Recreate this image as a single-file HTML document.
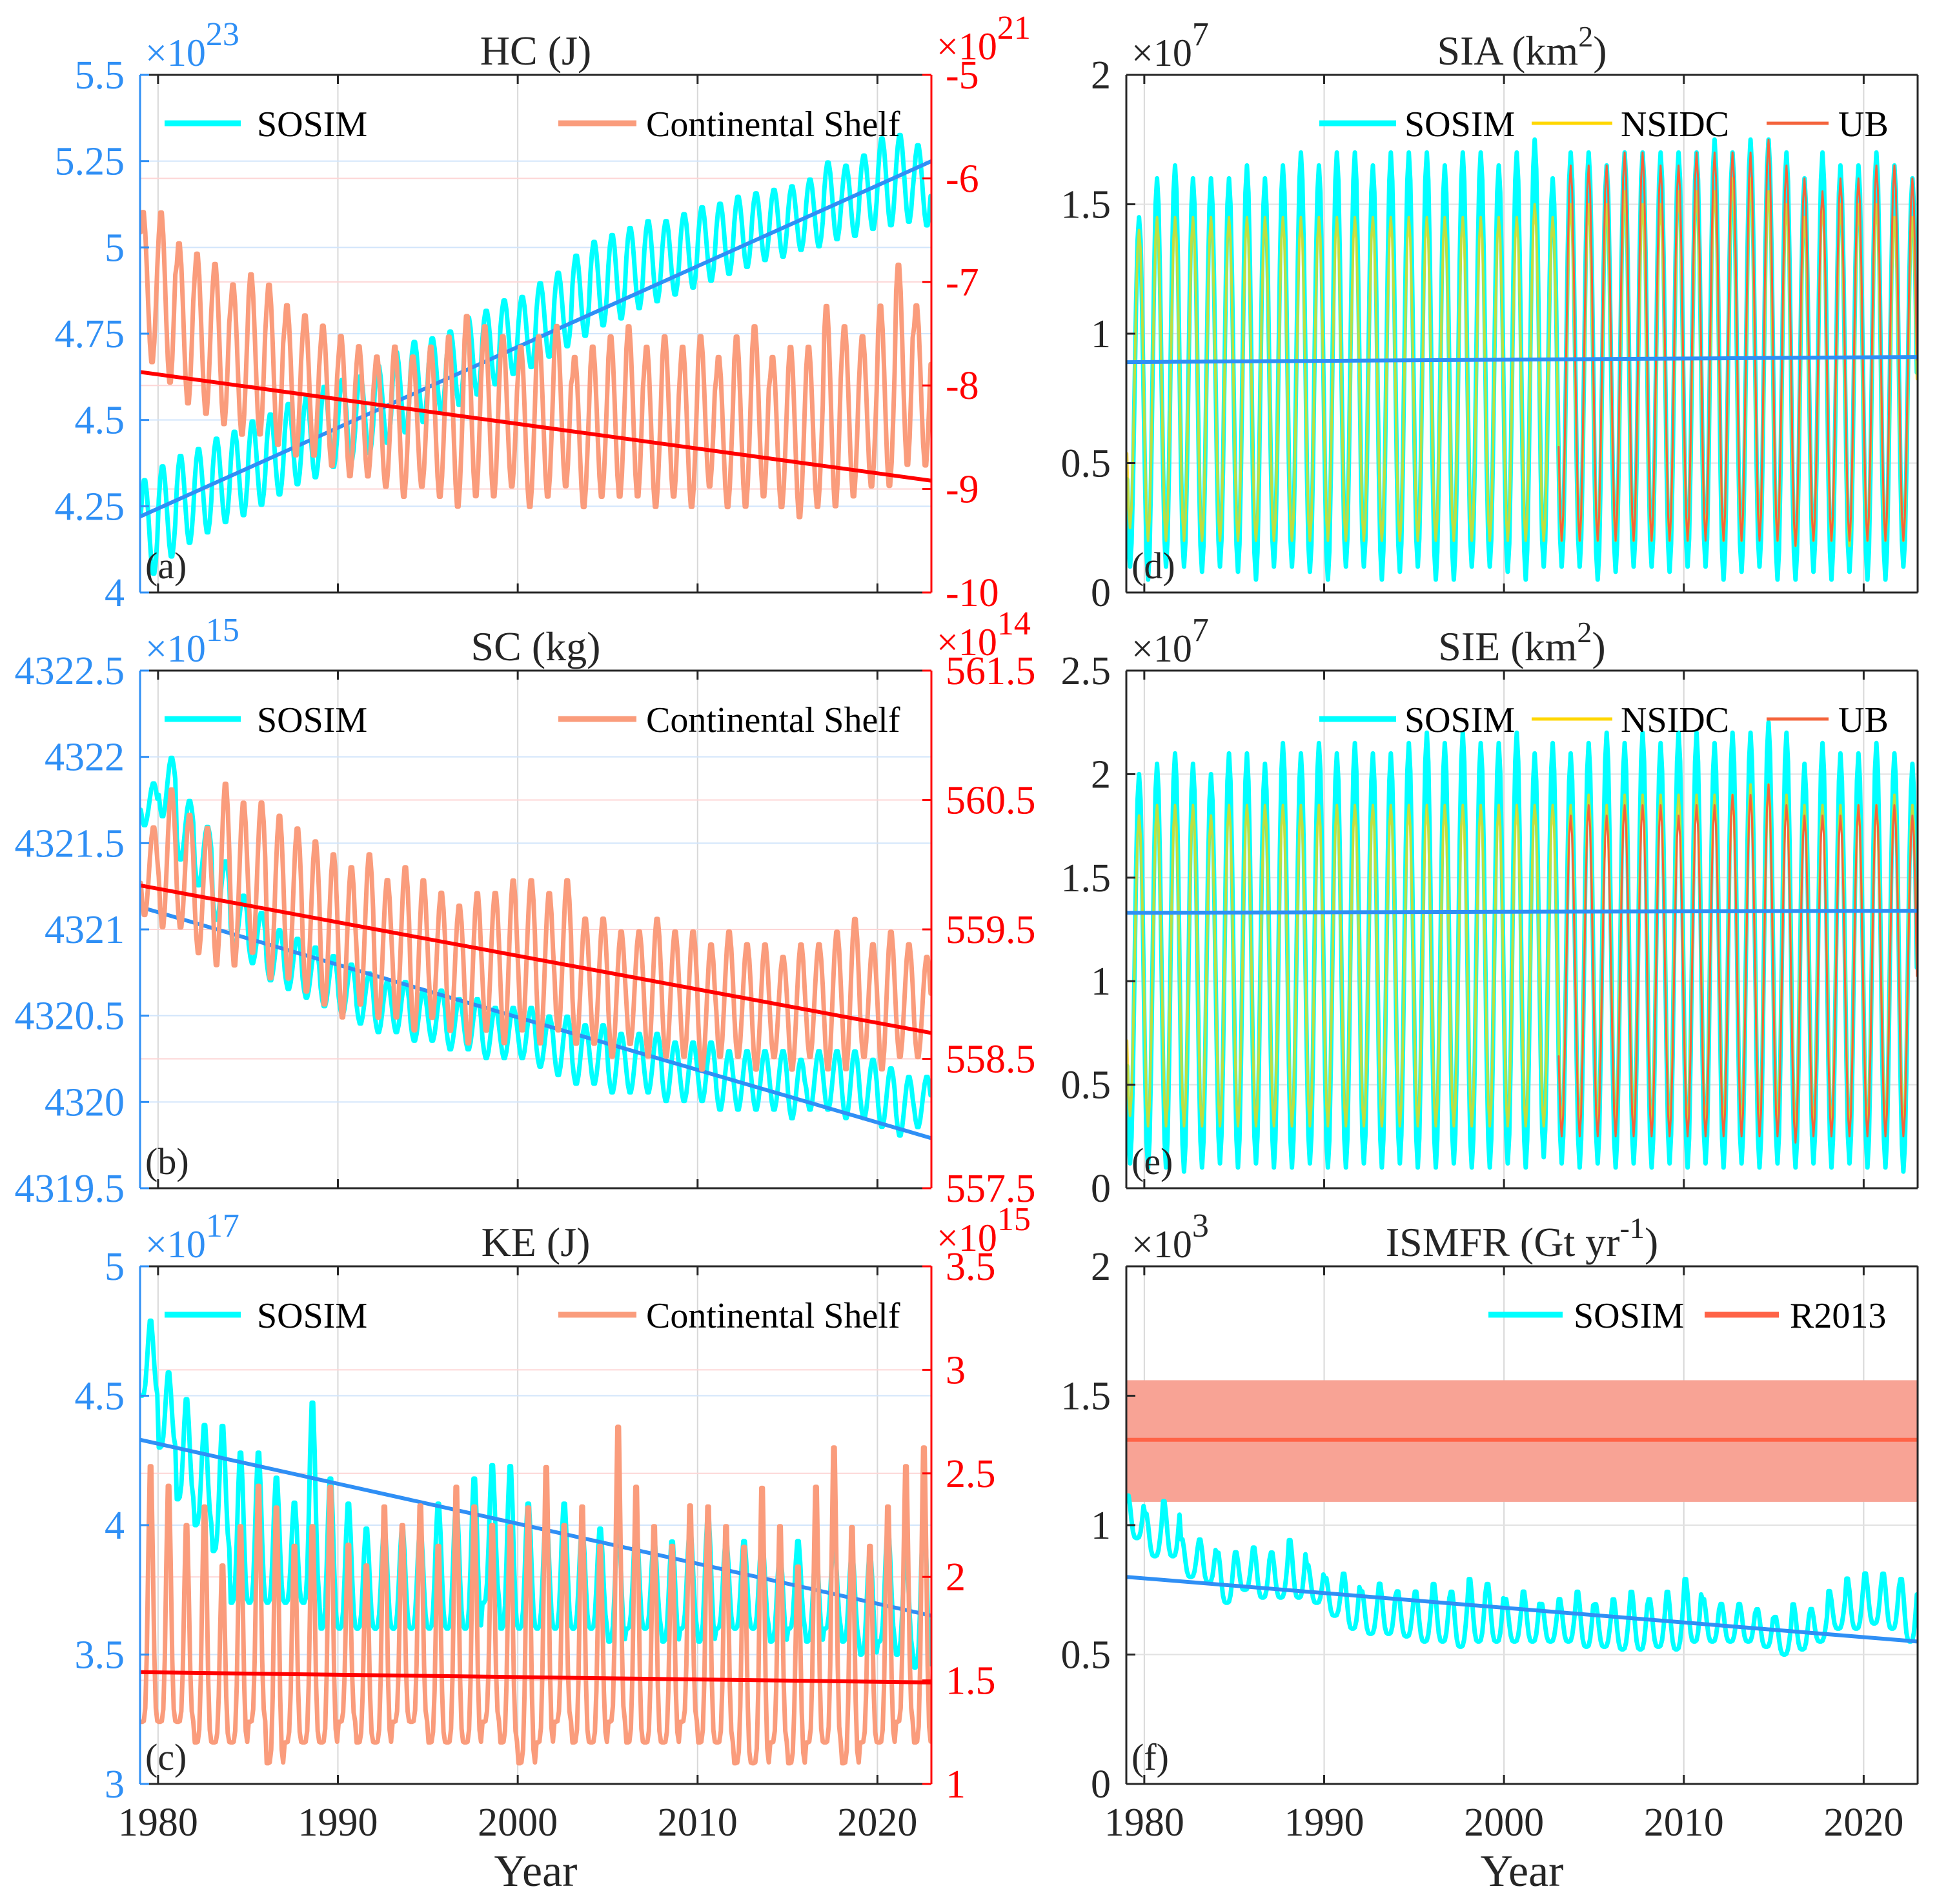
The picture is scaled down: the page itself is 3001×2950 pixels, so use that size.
<!DOCTYPE html>
<html><head><meta charset="utf-8"><title>Southern Ocean diagnostics</title>
<style>
html,body{margin:0;padding:0;background:#fff;}
svg{display:block;font-family:"Liberation Serif",serif;}
</style></head>
<body>
<svg id="fig" width="3001" height="2950" viewBox="0 0 3001 2950" xmlns="http://www.w3.org/2000/svg">
<rect x="0" y="0" width="3001" height="2950" fill="#fff"/>
</svg>
<script>
// ---------- data (yearly seasonal max/min, 1979..2022) ----------
const startYear = 1979;
const yearTicks = [1980, 1990, 2000, 2010, 2020];
const hcMax = [4.33,4.37,4.40,4.42,4.45,4.47,4.50,4.52,4.55,4.57,4.60,4.62,4.63,4.66,4.70,4.73,4.74,4.76,4.80,4.82,4.85,4.86,4.90,4.93,4.98,5.02,5.04,5.06,5.08,5.08,5.10,5.12,5.13,5.15,5.16,5.17,5.18,5.20,5.25,5.24,5.27,5.32,5.33,5.30];
const hcMin = [4.05,4.10,4.14,4.17,4.20,4.22,4.25,4.28,4.31,4.33,4.36,4.38,4.40,4.43,4.46,4.49,4.52,4.54,4.57,4.60,4.63,4.65,4.68,4.71,4.74,4.77,4.79,4.82,4.84,4.86,4.88,4.90,4.92,4.94,4.96,4.97,4.99,5.00,5.02,5.03,5.05,5.06,5.07,5.06];
const hcShelfMax = [-6.3,-6.3,-6.6,-6.7,-6.8,-7.0,-6.9,-7.0,-7.2,-7.3,-7.4,-7.5,-7.6,-7.7,-7.6,-7.7,-7.6,-7.5,-7.3,-7.4,-7.5,-7.6,-7.5,-7.4,-7.7,-7.6,-7.5,-7.4,-7.6,-7.5,-7.6,-7.5,-7.7,-7.5,-7.4,-7.7,-7.6,-7.6,-7.2,-7.4,-7.5,-7.2,-6.8,-7.2];
const hcShelfMin = [-7.8,-8.0,-8.2,-8.3,-8.4,-8.5,-8.5,-8.6,-8.7,-8.7,-8.8,-8.9,-8.9,-9.0,-9.1,-9.0,-9.1,-9.2,-9.1,-9.1,-9.0,-9.2,-9.1,-9.0,-9.2,-9.1,-9.1,-9.1,-9.2,-9.1,-9.2,-9.0,-9.2,-9.2,-9.1,-9.2,-9.3,-9.2,-9.2,-9.1,-9.0,-9.0,-8.8,-8.8];
const hcTrend = [4.22, 5.25];
const hcShelfTrend = [-7.87, -8.92];

const scMax = [4321.85,4322.0,4321.75,4321.6,4321.4,4321.2,4321.1,4321.0,4320.95,4320.9,4320.85,4320.8,4320.75,4320.7,4320.7,4320.65,4320.65,4320.6,4320.6,4320.55,4320.55,4320.55,4320.5,4320.5,4320.45,4320.45,4320.4,4320.4,4320.4,4320.35,4320.35,4320.35,4320.3,4320.3,4320.3,4320.3,4320.25,4320.3,4320.3,4320.3,4320.25,4320.2,4320.15,4320.15];
const scMin = [4321.6,4321.65,4321.4,4321.25,4321.05,4320.9,4320.8,4320.7,4320.65,4320.6,4320.55,4320.5,4320.45,4320.4,4320.4,4320.35,4320.35,4320.3,4320.3,4320.25,4320.25,4320.25,4320.2,4320.15,4320.1,4320.1,4320.05,4320.05,4320.05,4320.0,4320.0,4320.0,4319.95,4319.95,4319.95,4319.95,4319.9,4319.95,4319.95,4319.9,4319.9,4319.85,4319.8,4319.85];
const scShelfMax = [560.3,560.6,560.4,560.3,560.65,560.5,560.5,560.4,560.3,560.2,560.1,560.0,560.1,559.9,560.0,559.9,559.8,559.7,559.8,559.8,559.9,559.9,559.8,559.9,559.6,559.6,559.5,559.5,559.6,559.5,559.5,559.4,559.5,559.4,559.4,559.3,559.4,559.4,559.5,559.6,559.4,559.5,559.4,559.3];
const scShelfMin = [559.6,559.5,559.5,559.3,559.2,559.2,559.3,559.1,559.1,559.0,558.9,558.8,558.9,558.8,558.8,558.7,558.8,558.7,558.6,558.7,558.6,558.7,558.6,558.7,558.6,558.6,558.5,558.6,558.5,558.5,558.5,558.4,558.5,558.5,558.4,558.5,558.4,558.5,558.4,558.4,558.5,558.4,558.5,558.5];
const scTrend = [4321.13, 4319.79];
const scShelfTrend = [559.84, 558.70];

const keMax = [4.8,4.6,4.5,4.4,4.4,4.3,4.3,4.2,4.1,4.5,4.2,4.1,4.0,4.0,4.0,4.0,4.1,4.1,4.2,4.25,4.25,4.1,4.05,4.1,4.0,4.0,4.0,4.0,3.95,3.95,4.0,4.05,3.95,3.95,3.95,3.9,3.95,3.9,3.95,3.9,3.9,4.0,3.9,4.05];
const keMin = [4.5,4.3,4.1,4.0,3.9,3.7,3.7,3.7,3.7,3.7,3.6,3.6,3.6,3.6,3.6,3.6,3.6,3.6,3.6,3.7,3.6,3.6,3.6,3.6,3.6,3.6,3.55,3.6,3.6,3.55,3.6,3.55,3.6,3.6,3.6,3.55,3.6,3.55,3.6,3.55,3.5,3.55,3.5,3.45];
const keShelfMax = [2.6,2.5,2.3,2.4,2.1,2.3,2.5,2.4,2.2,2.3,2.5,2.2,2.1,2.4,2.3,2.4,2.2,2.5,2.4,2.3,2.3,2.4,2.6,2.3,2.4,2.2,2.8,2.5,2.3,2.2,2.4,2.4,2.3,2.2,2.5,2.3,2.1,2.5,2.7,2.3,2.2,2.4,2.6,2.7];
const keShelfMin = [1.3,1.3,1.3,1.2,1.2,1.2,1.3,1.1,1.2,1.2,1.2,1.3,1.2,1.2,1.3,1.3,1.2,1.2,1.2,1.3,1.2,1.1,1.2,1.3,1.2,1.2,1.3,1.2,1.2,1.2,1.3,1.2,1.2,1.1,1.1,1.2,1.1,1.2,1.2,1.1,1.2,1.2,1.3,1.2];
const keTrend = [4.33, 3.65];
const keShelfTrend = [1.54, 1.49];

const siaMax = [1.45,1.6,1.65,1.6,1.6,1.6,1.65,1.6,1.65,1.7,1.65,1.7,1.7,1.65,1.7,1.7,1.7,1.65,1.7,1.7,1.65,1.7,1.75,1.6,1.7,1.7,1.65,1.7,1.7,1.7,1.7,1.7,1.75,1.7,1.75,1.75,1.7,1.6,1.7,1.65,1.65,1.7,1.65,1.6];
const siaMin = [0.1,0.05,0.1,0.1,0.08,0.1,0.08,0.05,0.1,0.1,0.08,0.05,0.1,0.1,0.05,0.08,0.1,0.05,0.05,0.1,0.1,0.08,0.05,0.1,0.1,0.1,0.05,0.08,0.1,0.1,0.08,0.1,0.1,0.05,0.08,0.1,0.05,0.05,0.08,0.05,0.08,0.05,0.05,0.1];
const siaNsidcMax = [1.4,1.45,1.45,1.45,1.45,1.45,1.45,1.45,1.45,1.45,1.45,1.45,1.45,1.45,1.45,1.45,1.45,1.45,1.45,1.45,1.45,1.45,1.5,1.45,1.5,1.5,1.5,1.55,1.5,1.5,1.55,1.55,1.55,1.6,1.6,1.55,1.5,1.45,1.5,1.5,1.5,1.5,1.45,1.45];
const siaNsidcMin = [0.25,0.2,0.2,0.2,0.2,0.2,0.2,0.2,0.2,0.2,0.2,0.2,0.2,0.2,0.2,0.2,0.2,0.2,0.2,0.2,0.2,0.2,0.2,0.2,0.2,0.2,0.2,0.2,0.2,0.2,0.2,0.2,0.22,0.2,0.2,0.22,0.2,0.18,0.2,0.2,0.18,0.2,0.2,0.2];
const siaUbMax = [null,null,null,null,null,null,null,null,null,null,null,null,null,null,null,null,null,null,null,null,null,null,null,null,1.65,1.65,1.65,1.7,1.7,1.65,1.65,1.7,1.7,1.7,1.7,1.75,1.65,1.6,1.55,1.6,1.6,1.65,1.65,1.6];
const siaUbMin = [null,null,null,null,null,null,null,null,null,null,null,null,null,null,null,null,null,null,null,null,null,null,null,null,0.2,0.2,0.2,0.2,0.2,0.2,0.2,0.2,0.2,0.2,0.2,0.2,0.2,0.18,0.2,0.2,0.2,0.2,0.2,0.2];
const siaTrend = [0.89, 0.91];

const sieMax = [2.0,2.05,2.1,2.05,2.0,2.1,2.1,2.05,2.15,2.1,2.15,2.1,2.15,2.1,2.1,2.15,2.2,2.15,2.2,2.15,2.15,2.2,2.1,2.15,2.1,2.15,2.2,2.15,2.2,2.15,2.2,2.2,2.15,2.2,2.2,2.25,2.2,2.05,2.15,2.1,2.1,2.15,2.1,2.05];
const sieMin = [0.12,0.1,0.1,0.08,0.1,0.12,0.1,0.12,0.1,0.1,0.12,0.1,0.1,0.12,0.1,0.12,0.1,0.1,0.12,0.1,0.1,0.12,0.1,0.15,0.12,0.1,0.12,0.1,0.12,0.1,0.12,0.1,0.12,0.1,0.12,0.1,0.12,0.1,0.12,0.1,0.12,0.1,0.1,0.08];
const sieNsidcMax = [1.8,1.85,1.85,1.85,1.8,1.85,1.85,1.85,1.85,1.85,1.85,1.85,1.85,1.85,1.85,1.85,1.85,1.85,1.85,1.85,1.85,1.85,1.85,1.85,1.85,1.9,1.85,1.9,1.9,1.9,1.9,1.9,1.9,1.9,1.95,1.95,1.9,1.85,1.85,1.85,1.85,1.85,1.9,1.85];
const sieNsidcMin = [0.35,0.3,0.3,0.3,0.3,0.3,0.3,0.3,0.3,0.3,0.3,0.3,0.3,0.3,0.3,0.3,0.3,0.3,0.3,0.3,0.3,0.3,0.3,0.3,0.3,0.3,0.3,0.3,0.3,0.3,0.3,0.3,0.3,0.3,0.3,0.3,0.3,0.28,0.3,0.3,0.28,0.3,0.3,0.3];
const sieUbMax = [null,null,null,null,null,null,null,null,null,null,null,null,null,null,null,null,null,null,null,null,null,null,null,null,1.8,1.85,1.8,1.85,1.85,1.85,1.8,1.85,1.85,1.9,1.9,1.95,1.85,1.8,1.8,1.8,1.85,1.85,1.85,1.8];
const sieUbMin = [null,null,null,null,null,null,null,null,null,null,null,null,null,null,null,null,null,null,null,null,null,null,null,null,0.25,0.25,0.25,0.25,0.25,0.25,0.25,0.25,0.25,0.25,0.25,0.25,0.25,0.22,0.25,0.25,0.25,0.25,0.25,0.25];
const sieTrend = [1.33, 1.34];

const ismMax = [1.12,1.05,1.1,0.95,0.95,0.9,0.9,0.92,0.9,0.95,0.85,0.8,0.82,0.75,0.78,0.75,0.75,0.78,0.75,0.8,0.78,0.72,0.75,0.7,0.72,0.75,0.7,0.72,0.75,0.72,0.75,0.8,0.72,0.7,0.7,0.68,0.65,0.7,0.68,0.75,0.8,0.82,0.82,0.8];
const ismMin = [0.95,0.88,0.88,0.8,0.78,0.7,0.75,0.72,0.72,0.72,0.7,0.65,0.6,0.58,0.58,0.57,0.55,0.55,0.53,0.55,0.55,0.55,0.55,0.55,0.55,0.53,0.53,0.52,0.52,0.53,0.52,0.55,0.55,0.55,0.55,0.53,0.5,0.52,0.55,0.6,0.6,0.62,0.6,0.55];
const ismTrend = [0.8, 0.55];
const r2013 = [1.33, 1.09, 1.56]; // mean, lower, upper
</script>
<script>
const NS = "http://www.w3.org/2000/svg";
const svg = document.getElementById('fig');
const X0 = 1979, X1 = 2023;
const BLUE = "#2f8ff5", RED = "#ff0000", CYAN = "#00ffff", SHELF = "#fa9c7c", DARK = "#262626";

function mk(tag, attrs, parent) {
  const e = document.createElementNS(NS, tag);
  for (const k in attrs) e.setAttribute(k, attrs[k]);
  (parent || svg).appendChild(e);
  return e;
}
function monthly(mx, mn, peak, pw) {
  const out = [];
  for (let i = 0; i < mx.length * 12; i++) {
    const y = Math.floor(i / 12), m = i % 12;
    if (mx[y] === null) { out.push(null); continue; }
    let ph = 0.5 + 0.5 * Math.cos(2 * Math.PI * (m + 0.5 - peak) / 12);
    if (pw) ph = Math.pow(ph, pw);
    out.push({ t: startYear + (i + 0.5) / 12, v: mn[y] + (mx[y] - mn[y]) * ph });
  }
  return out;
}
function makeScales(p, lo, hi) {
  return {
    sx: t => p.x0 + (t - X0) / (X1 - X0) * (p.x1 - p.x0),
    sy: v => p.y1 - (v - lo) / (hi - lo) * (p.y1 - p.y0)
  };
}
function pathFrom(pts, S) {
  let d = "", pen = false;
  for (const q of pts) {
    if (!q) { pen = false; continue; }
    d += (pen ? "L" : "M") + S.sx(q.t).toFixed(1) + "," + S.sy(q.v).toFixed(1);
    pen = true;
  }
  return d;
}
function text(x, y, s, size, fill, anchor, parent) {
  const t = mk('text', { x: x, y: y, 'font-size': size, fill: fill, 'text-anchor': anchor || 'start' }, parent);
  t.textContent = s;
  return t;
}
function expLabel(x, y, exp, color, anchor, g) {
  const t = mk('text', { x: x, y: y, 'font-size': 60, fill: color, 'text-anchor': anchor || 'start' }, g);
  
  
  const a = mk('tspan', {}, t); a.textContent = "×10";
  const b = mk('tspan', { dy: -32, 'font-size': 52 }, t); b.textContent = exp;
}

function panel(cfg) {
  const p = cfg.box;
  const g = mk('g', {});
  
  
  const cid = 'clip-' + cfg.name;
  const cp = mk('clipPath', { id: cid }, g);
  mk('rect', { x: p.x0, y: p.y0, width: p.x1 - p.x0, height: p.y1 - p.y0 }, cp);
  const L = makeScales(p, cfg.left.lo, cfg.left.hi);
  const R = cfg.right ? makeScales(p, cfg.right.lo, cfg.right.hi) : null;

  // grid
  const grid = mk('g', {}, g);
  
  
  for (const yr of yearTicks) mk('line', { x1: L.sx(yr), x2: L.sx(yr), y1: p.y0, y2: p.y1, stroke: '#d8d8d8', 'stroke-width': 2 }, grid);
  for (const v of cfg.left.ticks) mk('line', { x1: p.x0, x2: p.x1, y1: L.sy(v), y2: L.sy(v), stroke: cfg.right ? '#d2e5fb' : '#e2e2e2', 'stroke-width': 2 }, grid);
  if (R) for (const v of cfg.right.ticks) mk('line', { x1: p.x0, x2: p.x1, y1: R.sy(v), y2: R.sy(v), stroke: '#fdd6d6', 'stroke-width': 2 }, grid);

  // series
  const sg = mk('g', { 'clip-path': 'url(#' + cid + ')' }, g);
  for (const s of cfg.series) {
    const S = s.axis === 'right' ? R : L;
    if (s.band) {
      const r = mk('rect', { x: p.x0, width: p.x1 - p.x0, y: S.sy(s.band[1]), height: S.sy(s.band[0]) - S.sy(s.band[1]), fill: s.color, opacity: s.opacity || 1 }, sg);
      
      
      continue;
    }
    let pts;
    if (s.trend) pts = [{ t: X0, v: s.trend[0] }, { t: X1, v: s.trend[1] }];
    else pts = monthly(s.max, s.min, s.peak, s.pw);
    const e = mk('path', { d: pathFrom(pts, S), fill: 'none', stroke: s.color, 'stroke-width': s.w, 'stroke-linejoin': 'round', 'stroke-linecap': 'round', opacity: s.opacity || 1 }, sg);
    
    
  }

  // axes
  const ax = mk('g', {}, g);
  
  
  mk('line', { x1: p.x0, x2: p.x1, y1: p.y0, y2: p.y0, stroke: DARK, 'stroke-width': 3 }, ax);
  mk('line', { x1: p.x0, x2: p.x1, y1: p.y1, y2: p.y1, stroke: DARK, 'stroke-width': 3 }, ax);
  const lc = cfg.right ? BLUE : DARK, rc = cfg.right ? RED : DARK;
  mk('line', { x1: p.x0, x2: p.x0, y1: p.y0, y2: p.y1, stroke: lc, 'stroke-width': 3 }, ax);
  mk('line', { x1: p.x1, x2: p.x1, y1: p.y0, y2: p.y1, stroke: rc, 'stroke-width': 3 }, ax);
  for (const yr of yearTicks) {
    mk('line', { x1: L.sx(yr), x2: L.sx(yr), y1: p.y1, y2: p.y1 - 14, stroke: DARK, 'stroke-width': 3 }, ax);
    mk('line', { x1: L.sx(yr), x2: L.sx(yr), y1: p.y0, y2: p.y0 + 14, stroke: DARK, 'stroke-width': 3 }, ax);
    if (cfg.xlabels) {
      const t = text(L.sx(yr), p.y1 + 80, String(yr), 62, DARK, 'middle', ax);
      
      
    }
  }
  cfg.left.ticks.forEach((v, i) => {
    mk('line', { x1: p.x0, x2: p.x0 + 14, y1: L.sy(v), y2: L.sy(v), stroke: lc, 'stroke-width': 3 }, ax);
    const t = text(p.x0 - 24, L.sy(v) + 21, cfg.left.labels[i], 62, lc, 'end', ax);
    
    
  });
  if (R) {
    cfg.right.ticks.forEach((v, i) => {
      mk('line', { x1: p.x1, x2: p.x1 - 14, y1: R.sy(v), y2: R.sy(v), stroke: rc, 'stroke-width': 3 }, ax);
      const t = text(p.x1 + 22, R.sy(v) + 21, cfg.right.labels[i], 62, rc, 'start', ax);
      
      
    });
    expLabel(p.x1 + 8, p.y0 - 24, cfg.right.exp, RED, 'start', g);
  }
  expLabel(p.x0 + 8, p.y0 - 14, cfg.left.exp, lc, 'start', g);

  // title
  const tt = mk('text', { x: (p.x0 + p.x1) / 2, y: p.y0 - 16, 'font-size': 64, fill: DARK, 'text-anchor': 'middle' }, g);
  
  
  const t1 = mk('tspan', {}, tt); t1.textContent = cfg.title[0];
  if (cfg.title[1]) {
    const t2 = mk('tspan', { dy: -28, 'font-size': 46 }, tt); t2.textContent = cfg.title[1];
    const t3 = mk('tspan', { dy: 28 }, tt); t3.textContent = cfg.title[2];
  }
  // panel letter
  const pl = text(p.x0 + 8, p.y1 - 22, cfg.letter, 58, DARK, 'start', g);
  
  

  // legend
  const lg = mk('g', {}, g);
  
  
  for (const it of cfg.legend) {
    const ly = p.y0 + 75;
    const e = mk('g', {}, lg);
    
    
    mk('line', { x1: it.x1, x2: it.x2, y1: ly, y2: ly, stroke: it.color, 'stroke-width': it.w }, e);
    text(it.tx, ly + 20, it.label, 56, '#000', 'start', e);
  }
}

const LX = [217, 1443], RX = [1745, 2971];
const ROWS = [[116, 918], [1039, 1841], [1962, 2764]];

panel({ name: 'panel-a-heat-content', box: { x0: LX[0], x1: LX[1], y0: ROWS[0][0], y1: ROWS[0][1] }, title: ['HC (J)'], letter: '(a)',
  left: { lo: 4, hi: 5.5, ticks: [4, 4.25, 4.5, 4.75, 5, 5.25, 5.5], labels: ['4', '4.25', '4.5', '4.75', '5', '5.25', '5.5'], exp: '23' },
  right: { lo: -10, hi: -5, ticks: [-10, -9, -8, -7, -6, -5], labels: ['-10', '-9', '-8', '-7', '-6', '-5'], exp: '21' },
  series: [
    { name: 'sosim-hc-line', max: hcMax, min: hcMin, peak: 3, color: CYAN, w: 7 },
    { name: 'sosim-hc-trend', trend: hcTrend, color: BLUE, w: 6 },
    { name: 'shelf-hc-line', axis: 'right', max: hcShelfMax, min: hcShelfMin, peak: 2, color: SHELF, w: 7 },
    { name: 'shelf-hc-trend', axis: 'right', trend: hcShelfTrend, color: RED, w: 6 }],
  legend: [{ x1: 255, x2: 373, color: CYAN, w: 9, tx: 398, label: 'SOSIM' }, { x1: 865, x2: 986, color: SHELF, w: 9, tx: 1001, label: 'Continental Shelf' }] });

panel({ name: 'panel-b-salt-content', box: { x0: LX[0], x1: LX[1], y0: ROWS[1][0], y1: ROWS[1][1] }, title: ['SC (kg)'], letter: '(b)',
  left: { lo: 4319.5, hi: 4322.5, ticks: [4319.5, 4320, 4320.5, 4321, 4321.5, 4322, 4322.5], labels: ['4319.5', '4320', '4320.5', '4321', '4321.5', '4322', '4322.5'], exp: '15' },
  right: { lo: 557.5, hi: 561.5, ticks: [557.5, 558.5, 559.5, 560.5, 561.5], labels: ['557.5', '558.5', '559.5', '560.5', '561.5'], exp: '14' },
  series: [
    { name: 'sosim-sc-line', max: scMax, min: scMin, peak: 9, color: CYAN, w: 7 },
    { name: 'sosim-sc-trend', trend: scTrend, color: BLUE, w: 6 },
    { name: 'shelf-sc-line', axis: 'right', max: scShelfMax, min: scShelfMin, peak: 9, color: SHELF, w: 7 },
    { name: 'shelf-sc-trend', axis: 'right', trend: scShelfTrend, color: RED, w: 6 }],
  legend: [{ x1: 255, x2: 373, color: CYAN, w: 9, tx: 398, label: 'SOSIM' }, { x1: 865, x2: 986, color: SHELF, w: 9, tx: 1001, label: 'Continental Shelf' }] });

panel({ name: 'panel-c-kinetic-energy', box: { x0: LX[0], x1: LX[1], y0: ROWS[2][0], y1: ROWS[2][1] }, title: ['KE (J)'], letter: '(c)', xlabels: true,
  left: { lo: 3, hi: 5, ticks: [3, 3.5, 4, 4.5, 5], labels: ['3', '3.5', '4', '4.5', '5'], exp: '17' },
  right: { lo: 1, hi: 3.5, ticks: [1, 1.5, 2, 2.5, 3, 3.5], labels: ['1', '1.5', '2', '2.5', '3', '3.5'], exp: '15' },
  series: [
    { name: 'sosim-ke-line', max: keMax, min: keMin, peak: 7, pw: 2, color: CYAN, w: 7 },
    { name: 'sosim-ke-trend', trend: keTrend, color: BLUE, w: 6 },
    { name: 'shelf-ke-line', axis: 'right', max: keShelfMax, min: keShelfMin, peak: 7, pw: 3, color: SHELF, w: 7 },
    { name: 'shelf-ke-trend', axis: 'right', trend: keShelfTrend, color: RED, w: 6 }],
  legend: [{ x1: 255, x2: 373, color: CYAN, w: 9, tx: 398, label: 'SOSIM' }, { x1: 865, x2: 986, color: SHELF, w: 9, tx: 1001, label: 'Continental Shelf' }] });

const iceLegend = [{ x1: 2044, x2: 2163, color: CYAN, w: 9, tx: 2176, label: 'SOSIM' }, { x1: 2373, x2: 2498, color: '#ffd700', w: 5, tx: 2511, label: 'NSIDC' }, { x1: 2737, x2: 2833, color: '#f4643c', w: 5, tx: 2848, label: 'UB' }];

panel({ name: 'panel-d-sea-ice-area', box: { x0: RX[0], x1: RX[1], y0: ROWS[0][0], y1: ROWS[0][1] }, title: ['SIA (km', '2', ')'], letter: '(d)',
  left: { lo: 0, hi: 2, ticks: [0, 0.5, 1, 1.5, 2], labels: ['0', '0.5', '1', '1.5', '2'], exp: '7' },
  series: [
    { name: 'sosim-sia-line', max: siaMax, min: siaMin, peak: 8.5, color: CYAN, w: 7 },
    { name: 'nsidc-sia-line', max: siaNsidcMax, min: siaNsidcMin, peak: 8.5, color: '#ffd400', w: 4, opacity: 0.75 },
    { name: 'ub-sia-line', max: siaUbMax, min: siaUbMin, peak: 8.5, color: '#f4643c', w: 3 },
    { name: 'sosim-sia-trend', trend: siaTrend, color: BLUE, w: 6 }],
  legend: iceLegend });

panel({ name: 'panel-e-sea-ice-extent', box: { x0: RX[0], x1: RX[1], y0: ROWS[1][0], y1: ROWS[1][1] }, title: ['SIE (km', '2', ')'], letter: '(e)',
  left: { lo: 0, hi: 2.5, ticks: [0, 0.5, 1, 1.5, 2, 2.5], labels: ['0', '0.5', '1', '1.5', '2', '2.5'], exp: '7' },
  series: [
    { name: 'sosim-sie-line', max: sieMax, min: sieMin, peak: 8.5, color: CYAN, w: 7 },
    { name: 'nsidc-sie-line', max: sieNsidcMax, min: sieNsidcMin, peak: 8.5, color: '#ffd400', w: 4, opacity: 0.75 },
    { name: 'ub-sie-line', max: sieUbMax, min: sieUbMin, peak: 8.5, color: '#f4643c', w: 3 },
    { name: 'sosim-sie-trend', trend: sieTrend, color: BLUE, w: 6 }],
  legend: iceLegend });

panel({ name: 'panel-f-ismfr', box: { x0: RX[0], x1: RX[1], y0: ROWS[2][0], y1: ROWS[2][1] }, title: ['ISMFR (Gt yr', '-1', ')'], letter: '(f)', xlabels: true,
  left: { lo: 0, hi: 2, ticks: [0, 0.5, 1, 1.5, 2], labels: ['0', '0.5', '1', '1.5', '2'], exp: '3' },
  series: [
    { name: 'r2013-band', band: [r2013[1], r2013[2]], color: '#f8a395', opacity: 1 },
    { name: 'r2013-line', trend: [r2013[0], r2013[0]], color: '#ff6347', w: 6 },
    { name: 'sosim-ismfr-line', max: ismMax, min: ismMin, peak: 1, pw: 2, color: CYAN, w: 7 },
    { name: 'sosim-ismfr-trend', trend: ismTrend, color: BLUE, w: 6 }],
  legend: [{ x1: 2306, x2: 2421, color: CYAN, w: 9, tx: 2438, label: 'SOSIM' }, { x1: 2641, x2: 2756, color: '#ff6347', w: 9, tx: 2773, label: 'R2013' }] });

const yl1 = text(830, 2922, 'Year', 70, DARK, 'middle');


const yl2 = text(2358, 2922, 'Year', 70, DARK, 'middle');


</script>
</body></html>
